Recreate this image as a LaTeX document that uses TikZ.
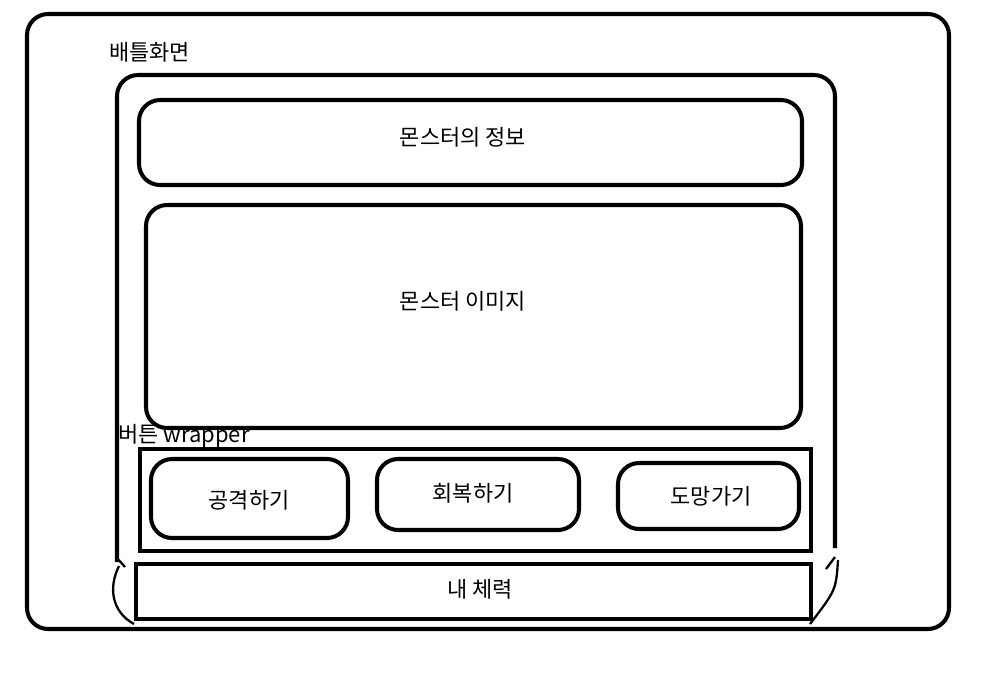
\documentclass[tikz,border=0pt]{standalone}
\usepackage{fontspec}
\setmainfont{Noto Sans CJK KR}
\begin{document}
\begin{tikzpicture}[x=0.02cm,y=-0.02cm,font=\fontsize{12.5}{14}\selectfont,
        frame/.style={line width=2.3pt,rounded corners=12},
        flatbox/.style={line width=2.3pt},
        label/.style={inner sep=0pt}]
    \useasboundingbox (0,0) rectangle (985,677);
    % bildschirm
    \draw[frame] (27,14) rectangle (949,629);
    \node[label,anchor=west] (title) at (109,52) {배틀화면};
    % inner frame, open at the bottom
    \draw[frame] (117,562) -- (117,75) -- (835,75) -- (835,548);
    \draw[line width=1.3pt] (117,558) -- (125,567);
    \draw[line width=1.3pt] (119,566) .. controls (108,588) and (112,612) .. (134,624);
    \draw[line width=1.3pt] (835,557) -- (826,569);
    \draw[line width=1.3pt] (838,560) .. controls (836,590) .. (810,624);
    % monster
    \draw[frame] (139,100) rectangle (802,185);
    \node[label] (info) at (463,137) {몬스터의 정보};
    \draw[frame] (146,205) rectangle (801,428);
    \node[label] (image) at (463,301) {몬스터 이미지};
    % buttons
    \node[label,anchor=west] (wrap) at (118,436) {버튼 wrapper};
    \draw[flatbox] (140,449) rectangle (811,551);
    \draw[frame] (151,459) rectangle (348,538);
    \node[label] (attack) at (249,500) {공격하기};
    \draw[frame] (377,459) rectangle (579,530);
    \node[label] (heal) at (473,493) {회복하기};
    \draw[frame] (618,463) rectangle (799,529);
    \node[label] (flee) at (711,496) {도망가기};
    % hp
    \draw[flatbox] (136,564) rectangle (811,619);
    \node[label] (hp) at (480,589) {내 체력};
\end{tikzpicture}
\end{document}
